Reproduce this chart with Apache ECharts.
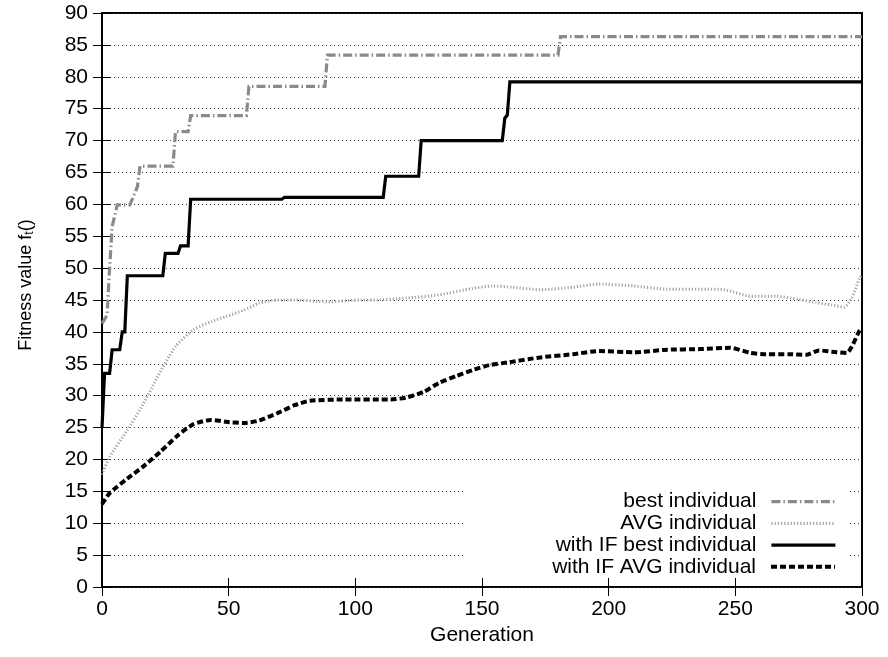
<!DOCTYPE html>
<html>
<head>
<meta charset="utf-8">
<script src="https://cdn.jsdelivr.net/npm/echarts@6/dist/echarts.min.js"></script>
<style>html,body{margin:0;padding:0;background:#fff}#c{width:888px;height:657px}</style>
</head>
<body>
<div id="c"></div>
<script>
const seriesNames = ['best individual', 'AVG individual', 'with IF best individual', 'with IF AVG individual'];
const xTicks = [0, 50, 100, 150, 200, 250, 300];

const bestGen = [0, 2, 3, 4, 6, 11, 14, 15, 28, 29, 34, 35, 57, 58, 88, 89, 180, 181, 300];
const bestVal = [41.3, 42.6, 50, 56.5, 59.9, 59.9, 62.8, 66, 66, 71.4, 71.4, 73.9, 73.9, 78.5, 78.5, 83.4, 83.4, 86.3, 86.3];

const avgGen = [0, 3, 10, 16, 22, 29, 36, 43, 49, 56, 62, 69, 76, 89, 102, 107, 120, 133, 146, 154, 162, 173, 186, 196, 210, 223, 236, 246, 256, 266, 275, 282, 288, 293, 296, 299, 300];
const avgVal = [17.6, 20.4, 24.6, 28.5, 33, 37.7, 40.3, 41.6, 42.4, 43.4, 44.5, 45, 45, 44.7, 45, 45, 45.3, 45.8, 46.8, 47.2, 47, 46.6, 47, 47.5, 47.2, 46.7, 46.7, 46.6, 45.6, 45.6, 45.1, 44.6, 44.2, 43.9, 45.3, 48.4, 49];

const ifBestGen = [0, 1, 3, 4, 7, 8, 9, 10, 24, 25, 30, 31, 34, 35, 71, 72, 111, 112, 125, 126, 158, 159, 160, 161, 300];
const ifBestVal = [25, 33.5, 33.5, 37.2, 37.2, 40, 40, 48.8, 48.8, 52.3, 52.3, 53.5, 53.5, 60.8, 60.8, 61.1, 61.1, 64.4, 64.4, 70, 70, 73.5, 74, 79.2, 79.2];

const ifAvgGen = [0, 3, 10, 16, 23, 30, 36, 43, 49, 56, 62, 69, 76, 82, 95, 114, 120, 127, 133, 140, 147, 153, 160, 173, 186, 196, 210, 223, 236, 248, 256, 262, 271, 278, 283, 288, 294, 296, 299, 300];
const ifAvgVal = [13, 14.7, 17, 18.8, 21.2, 23.8, 25.5, 26.2, 25.9, 25.7, 26.1, 27.2, 28.5, 29.2, 29.4, 29.4, 29.7, 30.6, 32, 33.1, 34.1, 34.8, 35.2, 36, 36.5, 37, 36.8, 37.2, 37.3, 37.5, 36.7, 36.5, 36.5, 36.4, 37.1, 36.9, 36.7, 37.7, 40.2, 40.6];

function zip(a, b) { return a.map((g, i) => [g, b[i]]); }

const FONT = 'Liberation Sans, Arial, Helvetica, sans-serif';
const FS = 21;

const chart = echarts.init(document.getElementById('c'), null, {renderer: 'canvas'});

const styles = [
  {color: '#8a8a8a', width: 3.2, type: [9, 3, 1.5, 3], smooth: false},
  {color: '#a3a3a3', width: 3, type: [1.2, 2], smooth: 0.2},
  {color: '#000000', width: 3.2, type: 'solid', smooth: false},
  {color: '#000000', width: 4, type: [6, 3], smooth: 0.2}
];
const datasets = [zip(bestGen, bestVal), zip(avgGen, avgVal), zip(ifBestGen, ifBestVal), zip(ifAvgGen, ifAvgVal)];

const legendRowCenters = [501.7, 523.4, 545.1, 566.8];
const legends = seriesNames.map((n, i) => ({
  data: [n],
  orient: 'vertical',
  right: 51,
  top: legendRowCenters[i] - 10.5,
  padding: 0,
  align: 'right',
  itemWidth: 64,
  itemHeight: 14,
  selectedMode: false,
  itemStyle: {color: 'rgba(0,0,0,0)', borderWidth: 0, opacity: 0},
  lineStyle: {color: styles[i].color, width: styles[i].width, type: styles[i].type, cap: 'butt'},
  textStyle: {fontFamily: FONT, fontSize: FS, color: '#000', lineHeight: 21, padding: [0, 10, 0, 0]}
}));

const axisCommonX = {
  type: 'value', min: 0, max: 300, interval: 50,
  axisLine: {show: false},
  splitLine: {show: false},
  axisTick: {show: true, inside: true, length: 9, lineStyle: {color: '#000', width: 1}}
};
const axisCommonY = {
  type: 'value', min: 0, max: 90, interval: 5,
  axisLine: {show: false},
  axisTick: {show: true, inside: true, length: 9, lineStyle: {color: '#000', width: 1}}
};

chart.setOption({
  animation: false,
  backgroundColor: '#fff',
  grid: {left: 102, right: 26, top: 13, bottom: 70, show: true, borderColor: '#000', borderWidth: 2, backgroundColor: 'transparent'},
  legend: legends,
  xAxis: [
    Object.assign({}, axisCommonX, {
      position: 'bottom',
      name: 'Generation', nameLocation: 'middle', nameGap: 37,
      nameTextStyle: {fontFamily: FONT, fontSize: FS, color: '#000'},
      axisLabel: {fontFamily: FONT, fontSize: FS, color: '#000', margin: 12,
        customValues: xTicks}
    }),
    Object.assign({}, axisCommonX, {position: 'top', axisLabel: {show: false}})
  ],
  yAxis: [
    Object.assign({}, axisCommonY, {
      position: 'left',
      name: 'Fitness value f{sub|t}()', nameLocation: 'middle', nameGap: 66, nameRotate: 90,
      nameTextStyle: {fontFamily: FONT, fontSize: 18, color: '#000', padding: [0, 0, 0, 30],
        rich: {sub: {fontFamily: FONT, fontSize: 12, color: '#000', padding: [8, 0, 0, 0]}}},
      axisLabel: {fontFamily: FONT, fontSize: FS, color: '#000', margin: 14},
      splitLine: {show: true, lineStyle: {color: '#3a3a3a', width: 1, type: [1, 3]}}
    }),
    Object.assign({}, axisCommonY, {position: 'right', axisLabel: {show: false}, splitLine: {show: false}})
  ],
  graphic: [{
    type: 'rect', z: 1, silent: true,
    shape: {x: 463, y: 470, width: 386, height: 100},
    style: {fill: '#fff'}
  }],
  series: seriesNames.map((n, i) => ({
    name: n, type: 'line', xAxisIndex: 0, yAxisIndex: 0,
    data: datasets[i], showSymbol: false, symbol: 'none',
    smooth: styles[i].smooth, z: 3 + (i === 2 ? 1 : 0),
    lineStyle: {color: styles[i].color, width: styles[i].width, type: styles[i].type, cap: 'butt', join: 'miter'},
    itemStyle: {color: styles[i].color},
    emphasis: {disabled: true}
  }))
});
</script>
</body>
</html>
